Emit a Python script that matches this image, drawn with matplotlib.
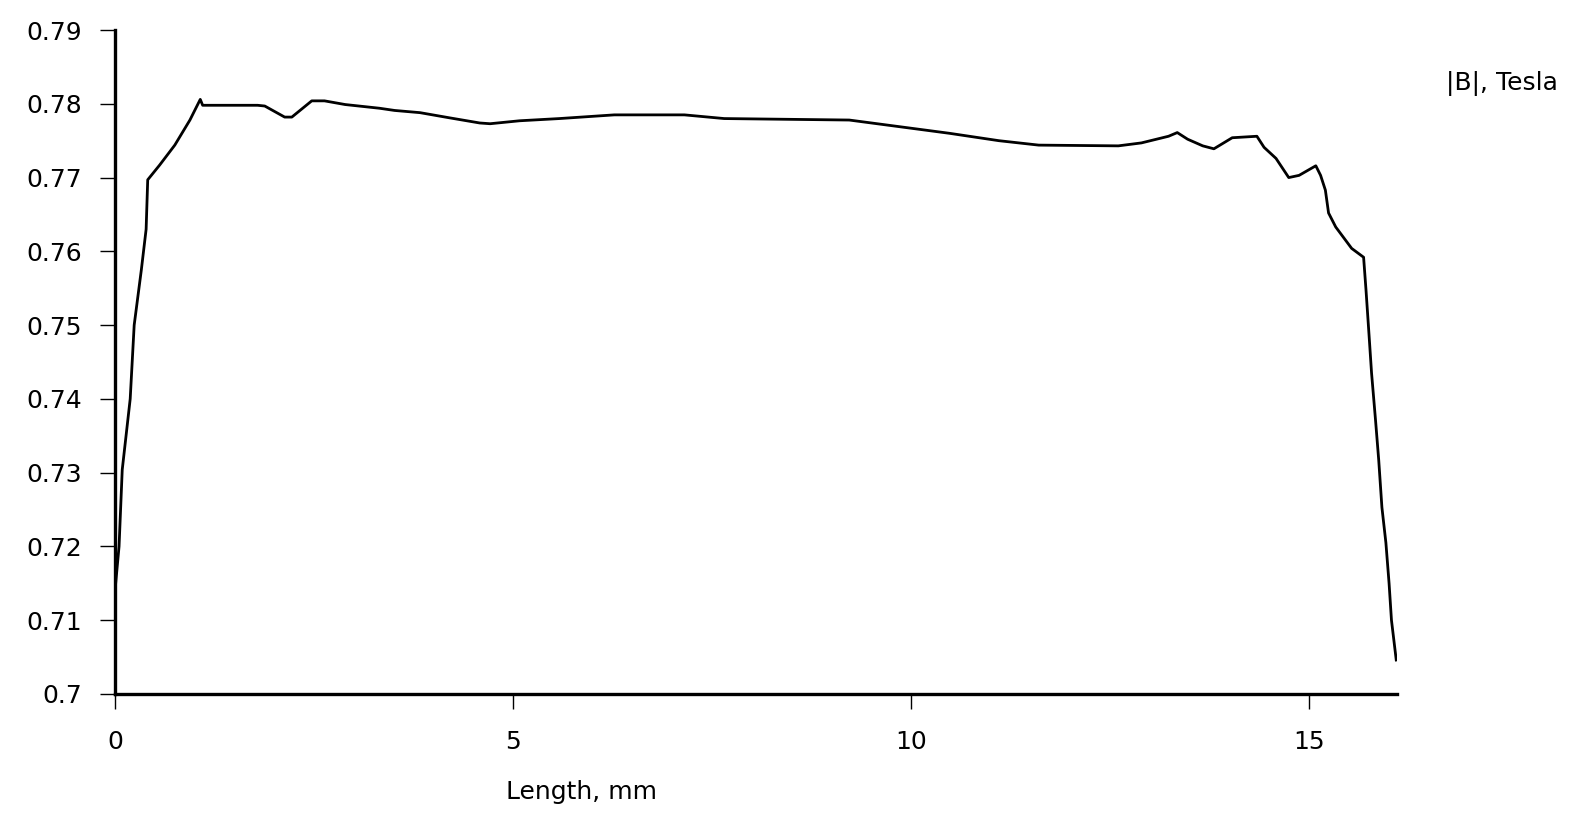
import matplotlib
matplotlib.use("Agg")
import matplotlib.pyplot as plt

# |B| along the length
length_mm = [0.0, 0.05, 0.09, 0.19, 0.24, 0.33, 0.39, 0.41, 0.56, 0.75, 0.94, 1.07,
             1.10, 1.79, 1.88, 2.13, 2.22, 2.47, 2.63, 2.89, 3.32, 3.51, 3.83, 4.20,
             4.58, 4.71, 5.08, 5.58, 6.27, 7.15, 7.65, 9.22, 9.85, 10.48, 11.10, 11.60,
             12.60, 12.89, 13.23, 13.34, 13.47, 13.66, 13.80, 14.03, 14.34, 14.43, 14.58,
             14.74, 14.87, 15.08, 15.14, 15.20, 15.24, 15.33, 15.53, 15.68, 15.71, 15.75,
             15.78, 15.83, 15.87, 15.91, 15.96, 16.00, 16.03, 16.09]
b_tesla = [0.7141, 0.7200, 0.7304, 0.7400, 0.7500, 0.7575, 0.7630, 0.7697, 0.7717,
           0.7744, 0.7778, 0.7806, 0.7798, 0.7798, 0.7797, 0.7782, 0.7782, 0.7804,
           0.7804, 0.7799, 0.7794, 0.7791, 0.7788, 0.7781, 0.7774, 0.7773, 0.7777,
           0.7780, 0.7785, 0.7785, 0.7780, 0.7778, 0.7769, 0.7760, 0.7750, 0.7744,
           0.7743, 0.7747, 0.7756, 0.7761, 0.7752, 0.7743, 0.7739, 0.7754, 0.7756,
           0.7741, 0.7726, 0.7700, 0.7703, 0.7716, 0.7703, 0.7683, 0.7652, 0.7633,
           0.7604, 0.7592, 0.7548, 0.7484, 0.7435, 0.7371, 0.7317, 0.7253, 0.7205,
           0.7150, 0.7100, 0.7046]

x_ticks = [0, 5, 10, 15]
y_ticks = [0.70, 0.71, 0.72, 0.73, 0.74, 0.75, 0.76, 0.77, 0.78, 0.79]

plt.rcParams['font.family'] = ['DejaVu Sans']

fig = plt.figure(figsize=(15.72, 8.23), dpi=100)
ax = fig.add_axes([0.0732, 0.1568, 0.8155, 0.8067])

ax.plot(length_mm, b_tesla, color='black', linewidth=2.0)

ax.set_xlim(0, 16.1)
ax.set_ylim(0.70, 0.79)
ax.set_xticks(x_ticks)
ax.set_xticklabels([str(t) for t in x_ticks])
ax.set_yticks(y_ticks)
ax.set_yticklabels(['%g' % t for t in y_ticks])

for side in ['top', 'right']:
    ax.spines[side].set_visible(False)
for side in ['left', 'bottom']:
    ax.spines[side].set_linewidth(2.4)
    ax.spines[side].set_color('black')

ax.tick_params(axis='y', direction='out', length=11, width=1, pad=13, labelsize=18)
ax.tick_params(axis='x', direction='out', length=11, width=1, pad=15, labelsize=18)

fig.text(582 / 1572, 1 - 792 / 823, 'Length, mm', ha='center', va='center', fontsize=18)
fig.text(1558 / 1572, 1 - 84 / 823, '|B|, Tesla', ha='right', va='center', fontsize=18)

fig.savefig('out.png', dpi=100, facecolor='white')
